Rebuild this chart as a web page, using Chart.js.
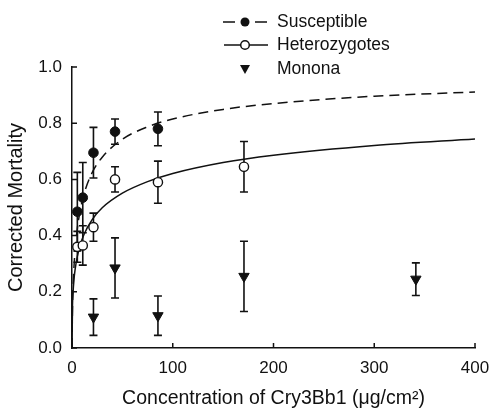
<!DOCTYPE html>
<html>
<head>
<meta charset="utf-8">
<script src="https://cdn.jsdelivr.net/npm/chart.js@4.4.0/dist/chart.umd.min.js"></script>
<style>
  html, body { margin: 0; padding: 0; background: #fff; }
  #wrap { width: 491px; height: 413px; position: relative; }
</style>
</head>
<body>
<div id="wrap"><canvas id="chart"></canvas></div>
<script>
// observed points (concentration in ug/cm2)
const suscX = [5.3, 10.7, 21.3, 42.7, 85.3];
const suscY = [0.485, 0.535, 0.695, 0.77, 0.78];
const suscErr = [0.14, 0.125, 0.09, 0.045, 0.06];

const hetX = [5.3, 10.7, 21.3, 42.7, 85.3, 170.7];
const hetY = [0.36, 0.365, 0.43, 0.6, 0.59, 0.645];
const hetErr = [0.055, 0.07, 0.05, 0.045, 0.075, 0.09];

const monX = [21.3, 42.7, 85.3, 170.7, 341.3];
const monY = [0.11, 0.285, 0.115, 0.255, 0.245];
const monErr = [0.065, 0.107, 0.07, 0.125, 0.058];

// fitted curves
const curveX = [0, 0.5, 1, 2, 3, 5, 8, 12, 20, 30, 50, 75, 100, 150, 200, 300, 400];
const suscCurve = [0, 0.15, 0.212, 0.291, 0.344, 0.417, 0.487, 0.549, 0.624, 0.679, 0.743, 0.787, 0.815, 0.849, 0.87, 0.896, 0.911];
const hetCurve = [0, 0.154, 0.196, 0.245, 0.277, 0.321, 0.365, 0.405, 0.457, 0.499, 0.551, 0.592, 0.621, 0.66, 0.686, 0.721, 0.744];

const xTicks = [0, 100, 200, 300, 400];
const yTicks = [0, 0.2, 0.4, 0.6, 0.8, 1.0];

const FONT = "'Liberation Sans', Arial, sans-serif";
const pts = (xs, ys) => xs.map((x, i) => ({ x: x, y: ys[i] }));

const errorBars = {
  id: "errorBars",
  beforeDatasetsDraw(chart) {
    const ctx = chart.ctx;
    const xs = chart.scales.x, ys = chart.scales.y;
    const groups = [[suscX, suscY, suscErr], [hetX, hetY, hetErr], [monX, monY, monErr]];
    ctx.save();
    ctx.strokeStyle = "#111";
    ctx.lineWidth = 1.6;
    groups.forEach(([gx, gy, ge]) => {
      gx.forEach((x, i) => {
        const px = xs.getPixelForValue(x);
        const top = ys.getPixelForValue(gy[i] + ge[i]);
        const bot = ys.getPixelForValue(gy[i] - ge[i]);
        ctx.beginPath();
        ctx.moveTo(px, top); ctx.lineTo(px, bot);
        ctx.moveTo(px - 4, top); ctx.lineTo(px + 4, top);
        ctx.moveTo(px - 4, bot); ctx.lineTo(px + 4, bot);
        ctx.stroke();
      });
    });
    ctx.restore();
  }
};

const axesAndLegend = {
  id: "axesAndLegend",
  afterDraw(chart) {
    const ctx = chart.ctx;
    const xs = chart.scales.x, ys = chart.scales.y;
    const a = chart.chartArea;
    ctx.save();
    ctx.strokeStyle = "#111";
    ctx.lineWidth = 1.5;
    // inward tick marks
    ctx.beginPath();
    xTicks.forEach(v => {
      const p = xs.getPixelForValue(v);
      ctx.moveTo(p, a.bottom); ctx.lineTo(p, a.bottom - 5);
    });
    yTicks.forEach(v => {
      const p = ys.getPixelForValue(v);
      ctx.moveTo(a.left, p); ctx.lineTo(a.left + 5, p);
    });
    ctx.stroke();

    // legend
    ctx.font = "17.5px " + FONT;
    ctx.fillStyle = "#111";
    ctx.textBaseline = "middle";
    ctx.lineWidth = 1.5;
    const cx = 245, tx = 277;
    // Susceptible
    let y = 22;
    ctx.beginPath();
    ctx.moveTo(223, y); ctx.lineTo(235, y);
    ctx.moveTo(255, y); ctx.lineTo(267, y);
    ctx.stroke();
    ctx.beginPath(); ctx.arc(cx, y, 4.5, 0, Math.PI * 2); ctx.fill();
    ctx.fillText("Susceptible", tx, y);
    // Heterozygotes
    y = 45;
    ctx.beginPath(); ctx.moveTo(224, y); ctx.lineTo(268, y); ctx.stroke();
    ctx.beginPath(); ctx.arc(cx, y, 4.3, 0, Math.PI * 2);
    ctx.fillStyle = "#fff"; ctx.fill(); ctx.stroke();
    ctx.fillStyle = "#111";
    ctx.fillText("Heterozygotes", tx, y);
    // Monona
    y = 69;
    ctx.beginPath();
    ctx.moveTo(cx - 5, y - 4); ctx.lineTo(cx + 5, y - 4); ctx.lineTo(cx, y + 5);
    ctx.closePath(); ctx.fill();
    ctx.fillText("Monona", tx, y);
    ctx.restore();
  }
};

new Chart(document.getElementById("chart"), {
  type: "scatter",
  data: {
    datasets: [
      {
        label: "Susceptible fit",
        data: pts(curveX, suscCurve),
        showLine: true,
        borderColor: "#111",
        borderWidth: 1.5,
        borderDash: [10, 6],
        pointRadius: 0,
        cubicInterpolationMode: "monotone",
        order: 5,
      },
      {
        label: "Heterozygotes fit",
        data: pts(curveX, hetCurve),
        showLine: true,
        borderColor: "#111",
        borderWidth: 1.5,
        pointRadius: 0,
        cubicInterpolationMode: "monotone",
        order: 5,
      },
      {
        label: "Susceptible",
        data: pts(suscX, suscY),
        pointStyle: "circle",
        pointRadius: 4.8,
        backgroundColor: "#111",
        borderColor: "#111",
        borderWidth: 1,
        order: 1,
      },
      {
        label: "Heterozygotes",
        data: pts(hetX, hetY),
        pointStyle: "circle",
        pointRadius: 4.6,
        backgroundColor: "#fff",
        borderColor: "#111",
        borderWidth: 1.4,
        order: 1,
      },
      {
        label: "Monona",
        data: pts(monX, monY),
        pointStyle: "triangle",
        rotation: 180,
        pointRadius: 6,
        backgroundColor: "#111",
        borderColor: "#111",
        borderWidth: 1,
        order: 1,
      },
    ],
  },
  options: {
    responsive: true,
    maintainAspectRatio: false,
    animation: false,
    layout: { padding: { top: 67, right: 16, left: 0, bottom: 0 } },
    plugins: { legend: { display: false }, tooltip: { enabled: false } },
    scales: {
      x: {
        type: "linear",
        min: 0,
        max: 400,
        afterBuildTicks: s => { s.ticks = xTicks.map(v => ({ value: v })); },
        afterFit: s => { s.height = 65; s.paddingLeft = 0; s.paddingRight = 0; },
        grid: { display: false, drawTicks: false },
        border: { display: true, color: "#111", width: 1.5 },
        ticks: { color: "#111", padding: 10, maxRotation: 0, font: { family: FONT, size: 17 } },
        title: {
          display: true,
          text: "Concentration of Cry3Bb1 (\u03bcg/cm\u00b2)",
          color: "#111",
          padding: { top: 0, bottom: 3 },
          font: { family: FONT, size: 19.5 },
        },
      },
      y: {
        type: "linear",
        min: 0,
        max: 1,
        afterBuildTicks: s => { s.ticks = yTicks.map(v => ({ value: v })); },
        afterFit: s => { s.width = 72; s.paddingTop = 0; s.paddingBottom = 0; },
        grid: { display: false, drawTicks: false },
        border: { display: true, color: "#111", width: 1.5 },
        ticks: {
          color: "#111",
          padding: 10,
          font: { family: FONT, size: 17 },
          callback: v => v.toFixed(1),
        },
        title: {
          display: true,
          text: "Corrected Mortality",
          color: "#111",
          padding: { top: 4, bottom: 0 },
          font: { family: FONT, size: 20 },
        },
      },
    },
  },
  plugins: [errorBars, axesAndLegend],
});
</script>
</body>
</html>
